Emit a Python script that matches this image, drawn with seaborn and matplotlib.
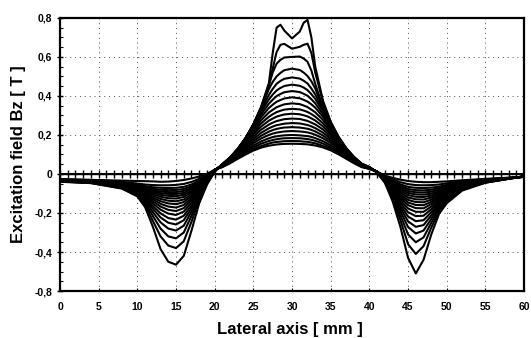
import matplotlib
matplotlib.use("Agg")
import matplotlib.pyplot as plt
from matplotlib.ticker import MultipleLocator
import pandas as pd
import seaborn as sns

# Lateral positions (mm) shared by every field profile
lateral_mm = [0, 4, 8, 10, 11, 12, 13, 14, 15, 16, 17, 18, 19, 20,
              21, 22, 23, 24, 25, 26, 27, 27.5, 28, 28.5, 29, 30, 31, 31.5, 32, 32.5,
              33, 34, 35, 36, 37, 38, 39,
              40, 41, 42, 43, 44, 45, 46, 47, 48, 49, 50, 52, 55, 60]

# Bz profiles (T), from the sharpest (closest) to the broadest one
bz_c01 = [-0.040, -0.047, -0.075, -0.115, -0.170, -0.270, -0.385, -0.450, -0.465, -0.420, -0.290, -0.150, -0.055, 0.012,
          0.050, 0.085, 0.130, 0.185, 0.255, 0.345, 0.465, 0.620, 0.750, 0.765, 0.735, 0.695, 0.730, 0.775, 0.790, 0.700,
          0.550, 0.375, 0.268, 0.192, 0.133, 0.088, 0.053,
          0.036, 0.006, -0.045, -0.140, -0.270, -0.430, -0.510, -0.440, -0.310, -0.205, -0.150, -0.085, -0.045, -0.012]
bz_c02 = [-0.039, -0.046, -0.073, -0.110, -0.160, -0.240, -0.320, -0.367, -0.380, -0.345, -0.245, -0.130, -0.050, 0.013,
          0.050, 0.085, 0.130, 0.184, 0.253, 0.340, 0.455, 0.540, 0.625, 0.662, 0.667, 0.642, 0.652, 0.662, 0.668, 0.620,
          0.520, 0.368, 0.264, 0.190, 0.132, 0.087, 0.052,
          0.035, 0.007, -0.042, -0.125, -0.235, -0.360, -0.410, -0.370, -0.275, -0.190, -0.140, -0.081, -0.044, -0.012]
bz_c03 = [-0.038, -0.045, -0.071, -0.106, -0.150, -0.215, -0.280, -0.320, -0.330, -0.300, -0.215, -0.118, -0.046, 0.014,
          0.050, 0.085, 0.129, 0.184, 0.254, 0.338, 0.455, 0.520, 0.565, 0.585, 0.597, 0.600, 0.602, 0.592, 0.575, 0.530,
          0.462, 0.342, 0.257, 0.186, 0.130, 0.086, 0.051,
          0.035, 0.008, -0.040, -0.115, -0.210, -0.310, -0.350, -0.325, -0.250, -0.178, -0.132, -0.078, -0.043, -0.012]
bz_c04 = [-0.037, -0.044, -0.069, -0.102, -0.141, -0.195, -0.248, -0.280, -0.290, -0.265, -0.193, -0.108, -0.043, 0.015,
          0.050, 0.085, 0.129, 0.184, 0.253, 0.335, 0.435, 0.472, 0.500, 0.518, 0.532, 0.540, 0.533, 0.520, 0.502, 0.475,
          0.438, 0.338, 0.255, 0.185, 0.129, 0.085, 0.050,
          0.034, 0.009, -0.038, -0.106, -0.190, -0.272, -0.305, -0.290, -0.230, -0.167, -0.125, -0.075, -0.042, -0.012]
bz_c05 = [-0.036, -0.043, -0.067, -0.099, -0.133, -0.178, -0.223, -0.250, -0.259, -0.237, -0.175, -0.100, -0.040, 0.016,
          0.050, 0.084, 0.128, 0.183, 0.250, 0.328, 0.405, 0.436, 0.462, 0.477, 0.488, 0.495, 0.489, 0.478, 0.464, 0.438,
          0.408, 0.331, 0.252, 0.184, 0.128, 0.084, 0.050,
          0.034, 0.009, -0.036, -0.099, -0.174, -0.243, -0.271, -0.262, -0.212, -0.157, -0.119, -0.072, -0.041, -0.012]
bz_c06 = [-0.035, -0.042, -0.066, -0.096, -0.126, -0.164, -0.202, -0.226, -0.234, -0.214, -0.160, -0.093, -0.037, 0.017,
          0.049, 0.084, 0.127, 0.181, 0.246, 0.318, 0.382, 0.407, 0.428, 0.441, 0.451, 0.458, 0.452, 0.443, 0.430, 0.409,
          0.385, 0.321, 0.248, 0.182, 0.127, 0.084, 0.049,
          0.033, 0.010, -0.034, -0.092, -0.160, -0.218, -0.242, -0.237, -0.196, -0.148, -0.113, -0.070, -0.040, -0.013]
bz_c07 = [-0.035, -0.041, -0.064, -0.093, -0.119, -0.151, -0.183, -0.203, -0.210, -0.193, -0.146, -0.086, -0.035, 0.017,
          0.049, 0.083, 0.125, 0.178, 0.240, 0.305, 0.360, 0.381, 0.399, 0.410, 0.419, 0.425, 0.420, 0.411, 0.401, 0.383,
          0.362, 0.307, 0.242, 0.179, 0.125, 0.083, 0.049,
          0.033, 0.010, -0.032, -0.086, -0.147, -0.196, -0.216, -0.214, -0.181, -0.139, -0.107, -0.067, -0.039, -0.013]
bz_c08 = [-0.034, -0.040, -0.063, -0.090, -0.113, -0.140, -0.167, -0.184, -0.190, -0.175, -0.134, -0.080, -0.032, 0.018,
          0.048, 0.082, 0.123, 0.174, 0.233, 0.291, 0.338, 0.355, 0.370, 0.379, 0.387, 0.393, 0.388, 0.380, 0.371, 0.357,
          0.340, 0.293, 0.235, 0.175, 0.123, 0.082, 0.048,
          0.032, 0.010, -0.030, -0.080, -0.135, -0.177, -0.194, -0.194, -0.167, -0.131, -0.102, -0.065, -0.038, -0.013]
bz_c09 = [-0.033, -0.039, -0.061, -0.087, -0.107, -0.130, -0.153, -0.167, -0.172, -0.159, -0.123, -0.074, -0.030, 0.018,
          0.048, 0.080, 0.121, 0.169, 0.224, 0.275, 0.315, 0.329, 0.342, 0.350, 0.357, 0.362, 0.358, 0.351, 0.343, 0.330,
          0.316, 0.277, 0.226, 0.170, 0.121, 0.080, 0.048,
          0.032, 0.011, -0.028, -0.075, -0.124, -0.160, -0.175, -0.176, -0.154, -0.123, -0.097, -0.062, -0.037, -0.013]
bz_c10 = [-0.033, -0.038, -0.060, -0.084, -0.101, -0.121, -0.140, -0.151, -0.155, -0.144, -0.112, -0.068, -0.028, 0.019,
          0.047, 0.079, 0.118, 0.164, 0.214, 0.259, 0.293, 0.306, 0.317, 0.324, 0.330, 0.334, 0.331, 0.325, 0.318, 0.307,
          0.294, 0.260, 0.215, 0.165, 0.118, 0.079, 0.047,
          0.031, 0.011, -0.027, -0.070, -0.114, -0.146, -0.159, -0.160, -0.143, -0.116, -0.092, -0.060, -0.036, -0.013]
bz_c11 = [-0.032, -0.037, -0.058, -0.080, -0.095, -0.112, -0.128, -0.137, -0.140, -0.131, -0.103, -0.063, -0.026, 0.019,
          0.046, 0.077, 0.115, 0.158, 0.203, 0.243, 0.273, 0.284, 0.294, 0.300, 0.305, 0.309, 0.306, 0.301, 0.295, 0.285,
          0.274, 0.244, 0.204, 0.159, 0.115, 0.077, 0.046,
          0.031, 0.011, -0.025, -0.065, -0.105, -0.133, -0.144, -0.145, -0.132, -0.109, -0.087, -0.058, -0.035, -0.014]
bz_c12 = [-0.031, -0.036, -0.056, -0.076, -0.089, -0.104, -0.117, -0.124, -0.126, -0.118, -0.094, -0.058, -0.024, 0.020,
          0.045, 0.075, 0.111, 0.151, 0.192, 0.227, 0.253, 0.263, 0.271, 0.276, 0.281, 0.284, 0.282, 0.277, 0.272, 0.263,
          0.254, 0.228, 0.193, 0.152, 0.111, 0.075, 0.045,
          0.030, 0.011, -0.023, -0.060, -0.096, -0.120, -0.130, -0.131, -0.121, -0.102, -0.082, -0.055, -0.034, -0.014]
bz_c13 = [-0.031, -0.035, -0.054, -0.072, -0.084, -0.097, -0.107, -0.112, -0.114, -0.107, -0.086, -0.054, -0.022, 0.020,
          0.044, 0.073, 0.107, 0.144, 0.180, 0.211, 0.234, 0.243, 0.250, 0.254, 0.258, 0.261, 0.259, 0.255, 0.251, 0.244,
          0.235, 0.212, 0.181, 0.145, 0.107, 0.073, 0.044,
          0.030, 0.011, -0.021, -0.055, -0.087, -0.108, -0.117, -0.118, -0.111, -0.095, -0.077, -0.052, -0.033, -0.014]
bz_c14 = [-0.030, -0.034, -0.052, -0.068, -0.079, -0.090, -0.098, -0.102, -0.103, -0.097, -0.078, -0.049, -0.019, 0.021,
          0.043, 0.071, 0.103, 0.137, 0.169, 0.196, 0.217, 0.225, 0.231, 0.235, 0.238, 0.240, 0.238, 0.235, 0.232, 0.226,
          0.218, 0.197, 0.170, 0.138, 0.103, 0.071, 0.043,
          0.029, 0.011, -0.019, -0.050, -0.079, -0.097, -0.105, -0.106, -0.101, -0.088, -0.072, -0.050, -0.032, -0.014]
bz_c15 = [-0.030, -0.034, -0.050, -0.064, -0.074, -0.083, -0.090, -0.093, -0.093, -0.087, -0.071, -0.045, -0.017, 0.021,
          0.042, 0.068, 0.098, 0.129, 0.158, 0.182, 0.200, 0.207, 0.212, 0.215, 0.218, 0.220, 0.218, 0.216, 0.213, 0.208,
          0.201, 0.183, 0.159, 0.130, 0.098, 0.068, 0.042,
          0.029, 0.011, -0.017, -0.045, -0.071, -0.087, -0.094, -0.095, -0.091, -0.081, -0.067, -0.047, -0.031, -0.014]
bz_c16 = [-0.029, -0.033, -0.047, -0.060, -0.068, -0.076, -0.081, -0.083, -0.082, -0.077, -0.063, -0.040, -0.014, 0.021,
          0.040, 0.065, 0.093, 0.121, 0.146, 0.167, 0.183, 0.189, 0.193, 0.196, 0.198, 0.200, 0.198, 0.196, 0.194, 0.190,
          0.184, 0.168, 0.147, 0.122, 0.093, 0.065, 0.040,
          0.028, 0.011, -0.015, -0.040, -0.062, -0.077, -0.083, -0.084, -0.081, -0.073, -0.062, -0.044, -0.030, -0.015]
bz_c17 = [-0.028, -0.032, -0.044, -0.055, -0.062, -0.068, -0.071, -0.072, -0.071, -0.066, -0.054, -0.034, -0.010, 0.022,
          0.039, 0.062, 0.088, 0.114, 0.136, 0.155, 0.169, 0.174, 0.178, 0.181, 0.183, 0.184, 0.183, 0.181, 0.179, 0.175,
          0.170, 0.156, 0.137, 0.115, 0.088, 0.062, 0.039,
          0.028, 0.011, -0.013, -0.034, -0.053, -0.066, -0.071, -0.072, -0.070, -0.065, -0.056, -0.041, -0.029, -0.015]
bz_c18 = [-0.028, -0.031, -0.040, -0.049, -0.054, -0.057, -0.058, -0.058, -0.056, -0.051, -0.041, -0.025, -0.006, 0.022,
          0.037, 0.059, 0.083, 0.107, 0.127, 0.143, 0.156, 0.161, 0.164, 0.166, 0.168, 0.169, 0.168, 0.166, 0.165, 0.161,
          0.157, 0.144, 0.128, 0.108, 0.083, 0.059, 0.037,
          0.027, 0.011, -0.010, -0.027, -0.042, -0.052, -0.057, -0.058, -0.057, -0.054, -0.048, -0.037, -0.027, -0.015]
bz_c19 = [-0.027, -0.030, -0.034, -0.036, -0.037, -0.038, -0.040, -0.039, -0.036, -0.031, -0.023, -0.013, 0.000, 0.022,
          0.035, 0.055, 0.078, 0.100, 0.120, 0.135, 0.145, 0.148, 0.151, 0.153, 0.154, 0.155, 0.154, 0.153, 0.152, 0.149,
          0.146, 0.136, 0.121, 0.101, 0.078, 0.055, 0.035,
          0.026, 0.011, -0.008, -0.020, -0.029, -0.036, -0.040, -0.042, -0.042, -0.040, -0.038, -0.032, -0.025, -0.015]

profiles = [bz_c01, bz_c02, bz_c03, bz_c04, bz_c05, bz_c06, bz_c07, bz_c08, bz_c09, bz_c10,
            bz_c11, bz_c12, bz_c13, bz_c14, bz_c15, bz_c16, bz_c17, bz_c18, bz_c19]

# Zero reference line with a marker every millimetre
baseline_mm = list(range(0, 61))
baseline_bz = [0.0] * len(baseline_mm)

x_ticks = [0, 5, 10, 15, 20, 25, 30, 35, 40, 45, 50, 55, 60]
x_tick_labels = ["0", "5", "10", "15", "20", "25", "30", "35", "40", "45", "50", "55", "60"]
y_ticks = [-0.6, -0.4, -0.2, 0.0, 0.2, 0.4, 0.6, 0.8]
y_tick_labels = ["-0,8", "-0,4", "-0,2", "0", "0,2", "0,4", "0,6", "0,8"]

records = []
for i, vals in enumerate(profiles):
    for x, v in zip(lateral_mm, vals, strict=True):
        records.append({"curve": f"c{i + 1:02d}", "x": x, "bz": v})
df = pd.DataFrame(records)

sns.set_theme(style="white")
plt.rcParams["font.family"] = ["Liberation Sans", "DejaVu Sans"]
plt.rcParams["text.color"] = "black"
plt.rcParams["axes.labelcolor"] = "black"
plt.rcParams["xtick.color"] = "black"
plt.rcParams["ytick.color"] = "black"

fig = plt.figure(figsize=(5.31, 3.38), dpi=100)
ax = fig.add_axes([0.113, 0.139, 0.874, 0.808])

ax.grid(True, which="major", linestyle=(0, (1, 4)), color="0.3", linewidth=0.7)
ax.set_axisbelow(True)

sns.lineplot(data=df, x="x", y="bz", hue="curve",
             palette=["black"] * len(profiles), legend=False,
             linewidth=1.5, sort=False, ax=ax)

sns.lineplot(x=baseline_mm, y=baseline_bz, color="black", marker="+",
             markersize=5.5, markeredgewidth=1.0, markeredgecolor="black",
             linewidth=1.4, ax=ax)

ax.set_xlim(0, 60)
ax.set_ylim(-0.6, 0.8)
ax.set_xticks(x_ticks)
ax.set_xticklabels(x_tick_labels, fontsize=7.5, fontweight="bold")
ax.set_yticks(y_ticks)
ax.set_yticklabels(y_tick_labels, fontsize=7.5, fontweight="bold")
ax.yaxis.set_minor_locator(MultipleLocator(0.05))

ax.tick_params(axis="y", which="major", direction="inout", length=5, width=1.0,
               color="black", pad=3, left=True)
ax.tick_params(axis="y", which="minor", direction="in", length=2.5, width=0.8,
               color="black", left=True)
ax.tick_params(axis="x", which="major", direction="in", length=2, width=0.8,
               color="black", pad=8, bottom=True)

for side in ["left", "right", "top", "bottom"]:
    ax.spines[side].set_visible(True)
    ax.spines[side].set_color("black")
    ax.spines[side].set_linewidth(1.6)

ax.set_xlabel("Lateral axis [ mm ]", fontsize=12, fontweight="bold")
ax.set_ylabel("Excitation field Bz [ T ]", fontsize=12, fontweight="bold")
ax.xaxis.set_label_coords(0.496, -0.112)
ax.yaxis.set_label_coords(-0.074, 0.5)

fig.savefig("out.png", dpi=100, facecolor="white")
